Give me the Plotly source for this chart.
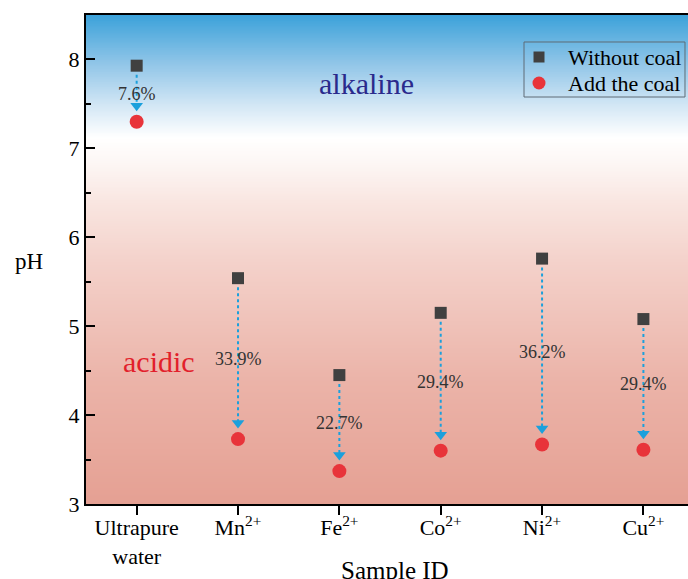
import numpy as np
import plotly.graph_objects as go

categories = ["Ultrapure<br>water", "Mn<sup>2+</sup>", "Fe<sup>2+</sup>",
              "Co<sup>2+</sup>", "Ni<sup>2+</sup>", "Cu<sup>2+</sup>"]
without_coal = [7.93, 5.54, 4.45, 5.15, 5.76, 5.08]
add_coal = [7.30, 3.73, 3.37, 3.60, 3.67, 3.61]
pct_labels = ["7.6%", "33.9%", "22.7%", "29.4%", "36.2%", "29.4%"]
series_names = ["Without coal", "Add the coal"]

FONT = "Liberation Serif"
SQ_COLOR, CIR_COLOR, ARROW_COLOR = "#404040", "#e8343a", "#1ba0dc"
xpos = list(range(len(categories)))
YMIN, YMAX = 3, 8.5
PX = 489 / (YMAX - YMIN)  # pixels per pH unit

fig = go.Figure()

# gradient background
yy = np.linspace(2.9, 8.6, 300)
fig.add_trace(go.Heatmap(
    x=[-0.6, 5.6], y=yy, z=[[v, v] for v in yy], zmin=YMIN, zmax=YMAX,
    colorscale=[[0.0, "#e5a093"], [0.25, "#ebb3a8"], [0.5, "#f4d2cb"],
                [0.62, "#f9e6e1"], [0.7, "#fdf7f5"], [0.75, "#ffffff"],
                [0.81, "#d7e9f6"], [0.9, "#92c6e8"], [1.0, "#3ca2da"]],
    zsmooth="best", showscale=False, hoverinfo="skip"))

# dotted arrows
for i, (a, b) in enumerate(zip(without_coal, add_coal)):
    y0 = a - 9 / PX
    y1 = b + 17 / PX
    fig.add_trace(go.Scatter(x=[xpos[i], xpos[i]], y=[y0, y1], mode="lines",
                             line=dict(color=ARROW_COLOR, width=2, dash="dot"),
                             showlegend=False, hoverinfo="skip"))
    fig.add_trace(go.Scatter(x=[xpos[i]], y=[b + 16 / PX], mode="markers",
                             marker=dict(symbol="triangle-down", size=11, color=ARROW_COLOR),
                             showlegend=False, hoverinfo="skip"))
    fig.add_annotation(x=xpos[i], y=(a + b) / 2, text=pct_labels[i], showarrow=False,
                       font=dict(family=FONT, size=18, color="#333333"))

fig.add_trace(go.Scatter(x=xpos, y=without_coal, mode="markers", name=series_names[0],
                         showlegend=False,
                         marker=dict(symbol="square", size=12, color=SQ_COLOR)))
fig.add_trace(go.Scatter(x=xpos, y=add_coal, mode="markers", name=series_names[1],
                         showlegend=False,
                         marker=dict(symbol="circle", size=14, color=CIR_COLOR)))

fig.add_annotation(x=2.27, y=7.73, text="alkaline", showarrow=False,
                   font=dict(family=FONT, size=30, color="#2a2a8c"))
fig.add_annotation(x=0.22, y=4.6, text="acidic", showarrow=False,
                   font=dict(family=FONT, size=30, color="#e21f2b"))

# axis titles
fig.add_annotation(xref="paper", yref="paper", x=0.513, y=-0.135, yanchor="middle",
                   text="Sample ID", showarrow=False,
                   font=dict(family=FONT, size=25, color="black"))
fig.add_annotation(xref="paper", yref="paper", x=-0.095, xanchor="center", y=0.495,
                   text="pH", showarrow=False,
                   font=dict(family=FONT, size=23, color="black"))

# legend box (drawn in paper coordinates)
fig.add_shape(type="rect", xref="paper", yref="paper", x0=0.7276, x1=0.995,
              y0=0.8323, y1=0.9448, line=dict(color="#5f6b76", width=1),
              fillcolor="rgba(0,0,0,0)", layer="above")
fig.add_shape(type="rect", xref="paper", yref="paper", xsizemode="pixel", ysizemode="pixel",
              xanchor=0.7525, yanchor=0.9141, x0=-5.5, x1=5.5, y0=-5.5, y1=5.5,
              line=dict(width=0), fillcolor=SQ_COLOR, layer="above")
fig.add_shape(type="circle", xref="paper", yref="paper", xsizemode="pixel", ysizemode="pixel",
              xanchor=0.7525, yanchor=0.8609, x0=-6.5, x1=6.5, y0=-6.5, y1=6.5,
              line=dict(width=0), fillcolor=CIR_COLOR, layer="above")
for name, ypp in zip(series_names, [0.9141, 0.8609]):
    fig.add_annotation(xref="paper", yref="paper", x=0.7975, y=ypp, xanchor="left",
                       yanchor="middle", text=name, showarrow=False,
                       font=dict(family=FONT, size=22, color="black"))

fig.update_layout(
    width=688, height=579,
    margin=dict(l=86, r=0, t=15, b=75),
    paper_bgcolor="white", plot_bgcolor="white",
    font=dict(family=FONT, size=22, color="black"),
    showlegend=False,
    xaxis=dict(range=[-0.5, 5.44], tickmode="array", tickvals=xpos, ticktext=categories,
               ticks="outside", ticklen=9, tickwidth=2, tickcolor="black",
               showline=True, linecolor="black", linewidth=2, mirror=True,
               showgrid=False, zeroline=False, automargin=False, ticklabelstandoff=-6,
               tickfont=dict(family=FONT, size=22)),
    yaxis=dict(range=[YMIN, YMAX], tickvals=[3, 4, 5, 6, 7, 8],
               ticks="inside", ticklen=9, tickwidth=2, tickcolor="black",
               minor=dict(tickvals=[3.5, 4.5, 5.5, 6.5, 7.5, 8.5], ticks="inside",
                          ticklen=5, tickwidth=2, tickcolor="black"),
               showline=True, linecolor="black", linewidth=2, mirror=False,
               showgrid=False, zeroline=False, automargin=False,
               tickfont=dict(family=FONT, size=22)),
)

fig.write_html("out.html")
